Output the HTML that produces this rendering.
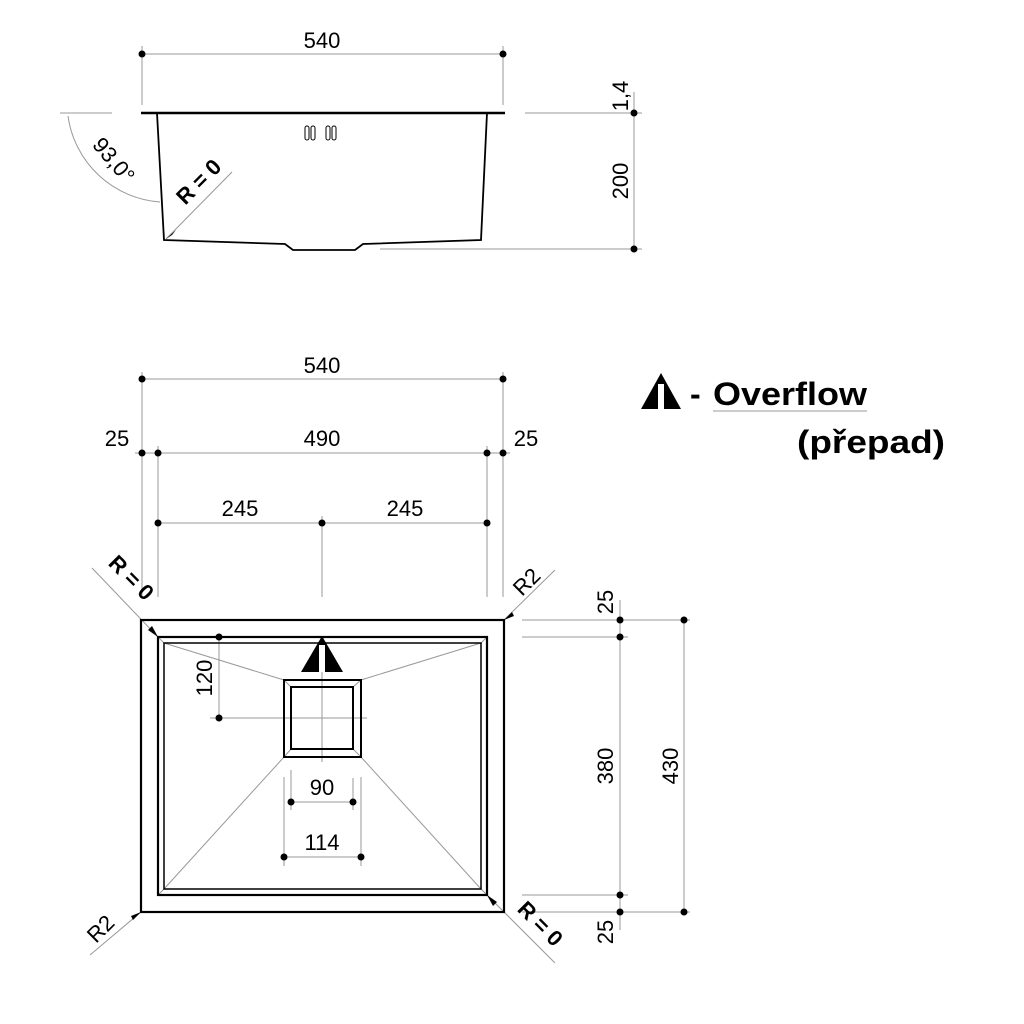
<!DOCTYPE html>
<html><head><meta charset="utf-8"><style>
html,body{margin:0;padding:0;background:#fff}
svg{display:block}
text{font-family:"Liberation Sans",sans-serif;fill:#000}
</style></head><body>
<svg width="1024" height="1024" viewBox="0 0 1024 1024" xmlns="http://www.w3.org/2000/svg">
<g stroke="#999" stroke-width="1" fill="none">
<line x1="142" y1="54" x2="503" y2="54"/>
<line x1="142" y1="46" x2="142" y2="105"/>
<line x1="503" y1="46" x2="503" y2="105"/>
<line x1="60" y1="113" x2="112" y2="113"/>
<line x1="525" y1="113" x2="642" y2="113"/>
<line x1="380" y1="249" x2="642" y2="249"/>
<line x1="634" y1="92" x2="634" y2="249"/>
<path d="M68 116 A100 100 0 0 0 160 202"/>
<line x1="166" y1="239" x2="232" y2="172"/>
<line x1="142" y1="379" x2="503" y2="379"/>
<line x1="135" y1="453" x2="510" y2="453"/>
<line x1="158" y1="523" x2="487" y2="523"/>
<line x1="142" y1="372" x2="142" y2="597"/>
<line x1="158" y1="446" x2="158" y2="597"/>
<line x1="322" y1="516" x2="322" y2="597"/>
<line x1="487" y1="446" x2="487" y2="597"/>
<line x1="503" y1="372" x2="503" y2="597"/>
<line x1="522" y1="620" x2="690" y2="620"/>
<line x1="522" y1="637" x2="628" y2="637"/>
<line x1="522" y1="895" x2="628" y2="895"/>
<line x1="522" y1="912" x2="690" y2="912"/>
<line x1="620" y1="600" x2="620" y2="930"/>
<line x1="684" y1="620" x2="684" y2="912"/>
<line x1="92" y1="568" x2="158" y2="637"/>
<line x1="555" y1="570" x2="504" y2="620"/>
<line x1="90" y1="955" x2="141" y2="912"/>
<line x1="487" y1="895" x2="555" y2="963"/>
<line x1="164" y1="643" x2="284" y2="680"/>
<line x1="481" y1="643" x2="361" y2="680"/>
<line x1="164" y1="889" x2="284" y2="757"/>
<line x1="481" y1="889" x2="361" y2="757"/>
<line x1="158" y1="637" x2="164" y2="643"/>
<line x1="487" y1="637" x2="481" y2="643"/>
<line x1="158" y1="895" x2="164" y2="889"/>
<line x1="487" y1="895" x2="481" y2="889"/>
<line x1="284" y1="680" x2="291" y2="687"/>
<line x1="361" y1="680" x2="353" y2="687"/>
<line x1="284" y1="757" x2="291" y2="749"/>
<line x1="361" y1="757" x2="353" y2="749"/>
<line x1="219" y1="637" x2="219" y2="718"/>
<line x1="210" y1="718" x2="367" y2="718"/>
<line x1="322" y1="640" x2="322" y2="762"/>
<line x1="291" y1="770" x2="291" y2="810"/>
<line x1="353" y1="778" x2="353" y2="810"/>
<line x1="284" y1="777" x2="284" y2="866"/>
<line x1="361" y1="777" x2="361" y2="866"/>
<line x1="291" y1="802" x2="353" y2="802"/>
<line x1="284" y1="857" x2="361" y2="857"/>
</g>
<line x1="141" y1="113" x2="505" y2="113" stroke="#000" stroke-width="2.5"/>
<polyline points="157,113 164,240 285,244 293,250 355,250 363,244 481,240 487,113" fill="none" stroke="#000" stroke-width="1.8"/>
<g fill="none" stroke="#000" stroke-width="1"><rect x="305" y="126" width="4" height="14" rx="2"/><rect x="311" y="126" width="4" height="14" rx="2"/><rect x="326" y="126" width="4" height="14" rx="2"/><rect x="332" y="126" width="4" height="14" rx="2"/></g>
<polygon points="166,239 176,230 172,235" fill="#000"/>
<g fill="none" stroke="#000">
<rect x="141" y="620" width="363" height="292" stroke-width="2.2"/>
<rect x="158" y="637" width="329" height="258" stroke-width="2.2"/>
<rect x="164" y="643" width="317" height="246" stroke-width="1.5"/>
<rect x="284" y="680" width="77" height="77" stroke-width="2"/>
<rect x="291" y="687" width="62" height="62" stroke-width="2"/>
</g>
<polygon points="322,636 301,672 343,672" fill="#000"/>
<rect x="319" y="645" width="6" height="27" fill="#fff"/>
<polygon points="158,637 148,630 152,626" fill="#000"/>
<polygon points="504,620 512,612 514,616" fill="#000"/>
<polygon points="141,912 133,920 131,916" fill="#000"/>
<polygon points="487,895 497,902 493,906" fill="#000"/>
<g fill="#000">
<circle cx="142" cy="54" r="3.5"/><circle cx="503" cy="54" r="3.5"/>
<circle cx="634" cy="113" r="3.5"/><circle cx="634" cy="249" r="3.5"/>
<circle cx="142" cy="379" r="3.5"/><circle cx="503" cy="379" r="3.5"/>
<circle cx="142" cy="453" r="3.5"/><circle cx="158" cy="453" r="3.5"/><circle cx="487" cy="453" r="3.5"/><circle cx="503" cy="453" r="3.5"/>
<circle cx="158" cy="523" r="3.5"/><circle cx="322" cy="523" r="3.5"/><circle cx="487" cy="523" r="3.5"/>
<circle cx="620" cy="620" r="3.5"/><circle cx="620" cy="637" r="3.5"/><circle cx="620" cy="895" r="3.5"/><circle cx="620" cy="912" r="3.5"/>
<circle cx="684" cy="620" r="3.5"/><circle cx="684" cy="912" r="3.5"/>
<circle cx="219" cy="637" r="3.5"/><circle cx="219" cy="718" r="3.5"/>
<circle cx="291" cy="802" r="3.5"/><circle cx="353" cy="802" r="3.5"/>
<circle cx="284" cy="857" r="3.5"/><circle cx="361" cy="857" r="3.5"/>
</g>
<g font-size="22" text-anchor="middle">
<text x="322" y="48">540</text>
<text x="322" y="373">540</text>
<text x="322" y="446">490</text>
<text x="117" y="446">25</text>
<text x="526" y="446">25</text>
<text x="240" y="516">245</text>
<text x="405" y="516">245</text>
<text x="322" y="795">90</text>
<text x="322" y="850">114</text>
<text transform="translate(628,96) rotate(-90)">1,4</text>
<text transform="translate(628,181) rotate(-90)">200</text>
<text transform="translate(212,678) rotate(-90)">120</text>
<text transform="translate(613,602) rotate(-90)">25</text>
<text transform="translate(613,766) rotate(-90)">380</text>
<text transform="translate(678,766) rotate(-90)">430</text>
<text transform="translate(613,932) rotate(-90)">25</text>
<text transform="translate(108,165) rotate(50)">93,0°</text>
<text transform="translate(204,187) rotate(-45)" font-weight="bold">R = 0</text>
<text transform="translate(126,583) rotate(45)" font-weight="bold">R = 0</text>
<text transform="translate(532,587) rotate(-45)">R2</text>
<text transform="translate(106,934) rotate(-45)">R2</text>
<text transform="translate(535,929) rotate(45)" font-weight="bold">R = 0</text>
</g>
<polygon points="661,373 641,409 681,409" fill="#000"/>
<rect x="658" y="384" width="6" height="25" fill="#fff"/>
<g font-size="32" font-weight="bold">
<text x="690" y="405">-</text>
<text x="713" y="405" textLength="154" lengthAdjust="spacingAndGlyphs">Overflow</text>
<text x="797" y="453" textLength="148" lengthAdjust="spacingAndGlyphs">(přepad)</text>
</g>
<line x1="713" y1="411" x2="867" y2="411" stroke="#999" stroke-width="1"/>
</svg>
</body></html>
